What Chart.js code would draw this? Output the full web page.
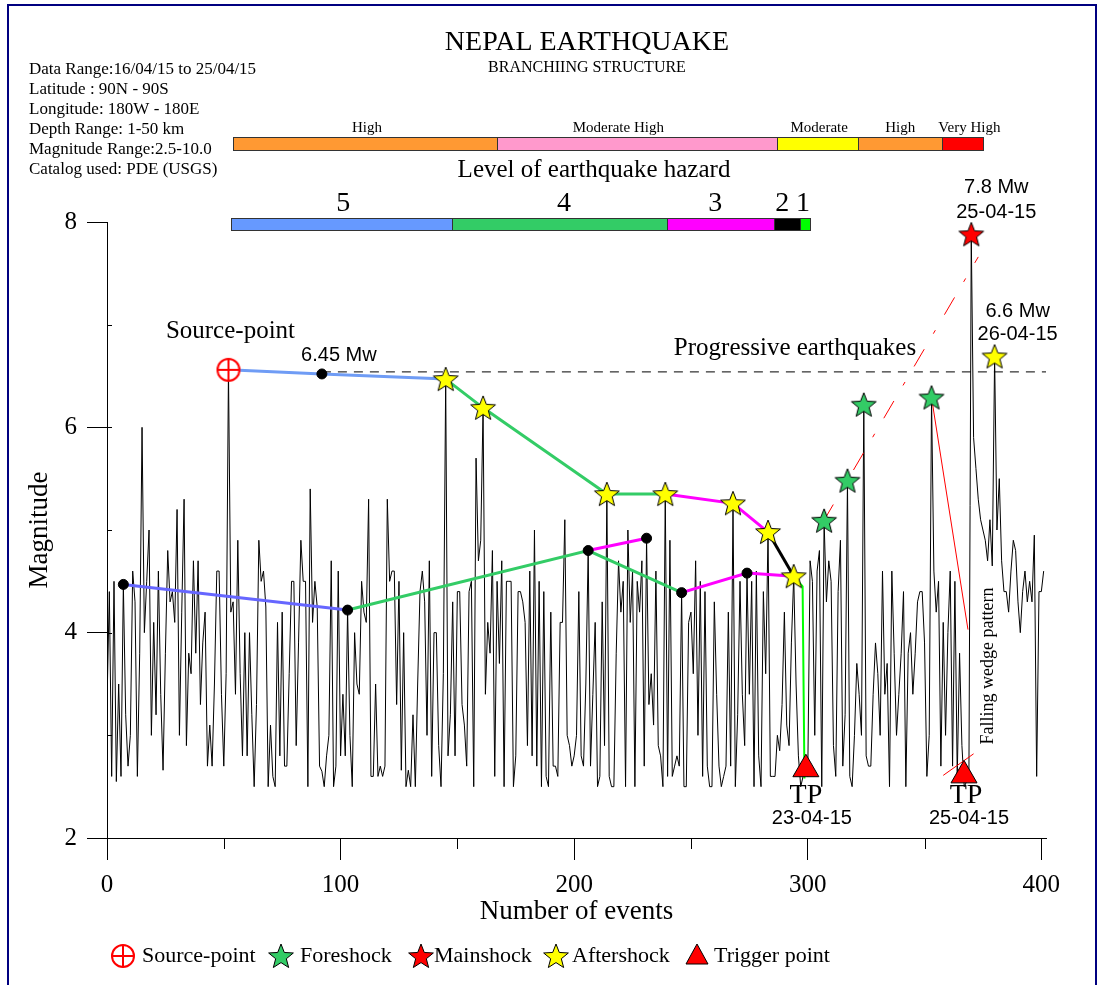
<!DOCTYPE html>
<html>
<head>
<meta charset="utf-8">
<title>Nepal earthquake - branching structure</title>
<script src="https://cdn.jsdelivr.net/npm/chart.js@4.4.0/dist/chart.umd.min.js"></script>
<style>
  body { margin: 0; background: #fff; }
  #wrap { position: relative; width: 1102px; height: 985px; }
</style>
</head>
<body>
<div id="wrap"><canvas id="canvas" width="1102" height="985"></canvas></div>
<script>
// magnitude of each event, event number = index
var magnitude = [
  3.3, 4.4, 2.6, 4.5, 2.55, 3.5, 2.6, 4.47, 3.2, 2.7,
  3.0, 4.6, 4.3, 2.6, 3.8, 6.0, 4.0, 4.5, 5.0, 3.0,
  4.1, 3.2, 4.6, 3.4, 2.66, 3.8, 4.8, 4.3, 4.4, 4.1,
  5.2, 3.0, 4.2, 5.3, 2.9, 3.8, 3.6, 4.7, 3.8, 4.7,
  3.3, 3.9, 4.2, 2.7, 3.1, 2.7, 3.5, 4.6, 4.6, 3.4,
  2.7, 3.6, 6.56, 4.2, 4.3, 3.4, 4.9, 3.6, 2.8, 4.0,
  2.8, 4.0, 3.2, 2.5, 3.3, 4.9, 4.5, 4.6, 4.25, 2.5,
  3.1, 2.6, 2.5, 4.1, 2.8, 4.2, 2.7, 2.7, 3.6, 4.5,
  4.5, 2.9, 3.9, 4.9, 4.5, 4.5, 2.5, 5.4, 4.1, 4.5,
  4.25, 2.7, 2.65, 2.5, 2.8, 3.0, 4.7, 2.5, 2.7, 4.6,
  2.8, 3.4, 2.8, 4.22, 3.0, 2.5, 4.0, 3.5, 3.4, 4.5,
  4.2, 4.1, 5.3, 2.6, 2.6, 3.5, 2.6, 2.7, 2.6, 2.7,
  5.3, 4.5, 4.6, 4.6, 3.3, 4.5, 2.66, 4.0, 2.5, 2.66,
  2.5, 3.2, 2.5, 3.5, 4.4, 4.6, 4.3, 3.0, 4.7, 2.6,
  4.0, 4.0, 2.9, 2.5, 3.6, 6.47, 2.8, 3.2, 4.3, 2.8,
  4.4, 4.4, 3.3, 3.1, 2.7, 4.4, 4.5, 2.5, 5.7, 4.7,
  4.9, 6.19, 3.4, 4.1, 3.8, 4.8, 2.6, 4.5, 3.7, 4.7,
  2.5, 4.5, 4.5, 4.5, 2.5, 2.8, 4.4, 4.4, 4.3, 4.1,
  2.9, 4.6, 2.8, 5.0, 2.7, 4.5, 2.5, 4.4, 2.6, 2.5,
  4.2, 2.7, 2.7, 2.6, 4.1, 4.1, 5.1, 3.0, 2.9, 2.7,
  2.8, 3.0, 4.4, 2.8, 2.7, 3.5, 4.8, 2.7, 3.4, 4.1,
  2.5, 2.6, 4.3, 2.9, 5.35, 2.6, 2.5, 2.5, 3.8, 4.7,
  4.2, 4.5, 2.5, 5.0, 4.1, 4.6, 2.5, 4.5, 4.2, 4.7,
  2.7, 4.92, 3.3, 3.6, 3.1, 4.6, 2.9, 2.8, 2.5, 5.35,
  2.6, 4.9, 2.6, 2.7, 2.8, 2.7, 4.39, 2.5, 2.5, 4.1,
  4.2, 3.6, 4.7, 3.0, 4.5, 2.6, 4.4, 2.7, 2.5, 2.5,
  4.3, 3.4, 2.7, 2.5, 2.6, 2.7, 4.2, 2.7, 5.26, 2.5,
  3.2, 4.5, 3.4, 2.9, 4.58, 3.4, 4.5, 2.5, 4.6, 2.8,
  2.5, 4.4, 3.6, 4.98, 2.6, 2.6, 2.6, 3.0, 2.85, 3.3,
  4.2, 3.1, 2.9, 3.9, 4.55, 3.5, 2.8, 2.5, 2.6, 2.7,
  2.6, 4.7, 4.5, 3.0, 4.6, 4.8, 2.5, 5.09, 4.3, 4.7,
  4.5, 2.9, 2.6, 4.4, 4.9, 2.7, 3.2, 5.48, 2.6, 2.5,
  3.0, 3.7, 3.4, 3.0, 6.22, 2.8, 2.7, 2.7, 3.4, 3.9,
  3.6, 3.0, 4.6, 3.4, 3.7, 2.5, 4.6, 3.8, 3.0, 3.4,
  3.8, 4.4, 2.5, 3.8, 4.0, 3.4, 3.8, 4.3, 4.4, 4.4,
  3.9, 2.6, 3.0, 6.29, 4.6, 4.2, 4.5, 2.7, 4.1, 3.0,
  4.0, 4.6, 2.7, 4.5, 2.6, 3.8, 2.9, 2.5, 2.55, 2.6,
  7.88, 5.9, 5.6, 5.3, 5.1, 5.0, 4.9, 4.7, 5.1, 4.65,
  6.69, 5.0, 5.5, 4.7, 4.4, 4.4, 4.2, 4.6, 4.9, 4.8,
  4.3, 4.0, 4.4, 4.6, 4.3, 4.5, 4.3, 4.95, 2.6, 4.4,
  4.4, 4.6
];

var xTickValues = [0, 100, 200, 300, 400];
var yTickValues = [2, 4, 6, 8];

var sourceEvents = [52];
var foreshockEvents = [307, 317, 324, 353];
var mainshockEvents = [370];
var aftershockEvents = [145, 161, 214, 239, 268, 283, 294, 380];
var nodeEvents = [7, 103, 206, 231, 246, 274];

// extra node on the level-5 branch (6.45 Mw)
var refNodeX = [92];
var refNodeY = [6.52];

var triggerX = [299.2, 366.9];
var triggerY = [2.67, 2.61];

// branches (event number, magnitude)
var lvl5TopX = [52, 92, 145],           lvl5TopY = [6.56, 6.52, 6.47];
var lvl4TopX = [145, 161, 214, 239],    lvl4TopY = [6.47, 6.19, 5.35, 5.35];
var lvl3TopX = [239, 268, 283],         lvl3TopY = [5.35, 5.26, 4.98];
var lvl2TopX = [283, 294],              lvl2TopY = [4.98, 4.55];
var lvl1X = [294, 297.8, 298.6],        lvl1Y = [4.55, 4.45, 2.58];
var lvl5LowX = [7, 103],                lvl5LowY = [4.47, 4.22];
var lvl4LowX = [103, 206, 246],         lvl4LowY = [4.22, 4.80, 4.39];
var lvl3LowAX = [206, 231],             lvl3LowAY = [4.80, 4.92];
var lvl3LowBX = [246, 274, 294],        lvl3LowBY = [4.39, 4.58, 4.55];

var progressiveX = [92, 402],           progressiveY = [6.54, 6.54];
var trendX = [306.6, 373.0],            trendY = [5.08, 7.66];
var wedgeTopX = [353, 368.6],           wedgeTopY = [6.29, 4.03];
var wedgeBaseX = [358.0, 371.0],        wedgeBaseY = [2.61, 2.82];

// hazard bars (bounds and label positions in event numbers)
var hazardBounds = [54.0, 167.0, 286.9, 321.6, 357.6, 375.1];
var hazardLabels = ['High', 'Moderate High', 'Moderate', 'High', 'Very High'];
var hazardLabelAt = [111.3, 218.9, 304.9, 339.6, 369.2];
var levelBounds = [53.1, 147.8, 239.8, 285.7, 296.8, 301.1];
var levelLabels = ['5', '4', '3', '2', '1'];
var levelLabelAt = [101.1, 195.7, 260.4, 289.1, 298.0];

var infoLines = [
  'Data Range:16/04/15 to 25/04/15',
  'Latitude : 90N - 90S',
  'Longitude: 180W - 180E',
  'Depth Range: 1-50 km',
  'Magnitude Range:2.5-10.0',
  'Catalog used: PDE (USGS)'
];

var SERIF = "'Liberation Serif', 'Times New Roman', serif";
var SANS = "'Liberation Sans', Arial, sans-serif";

function pick(list) {
  return list.map(function (i) { return { x: i, y: magnitude[i] }; });
}
function pts(xs, ys) {
  return xs.map(function (x, i) { return { x: x, y: ys[i] }; });
}

function starImage(r, fill) {
  var s = Math.ceil(r * 2 + 4);
  var c = document.createElement('canvas');
  c.width = s; c.height = s;
  var g = c.getContext('2d');
  g.beginPath();
  for (var i = 0; i < 10; i++) {
    var rr = i % 2 ? r * 0.43 : r;
    var a = -Math.PI / 2 + i * Math.PI / 5;
    g.lineTo(s / 2 + rr * Math.cos(a), s / 2 + 1 + rr * Math.sin(a));
  }
  g.closePath();
  g.fillStyle = fill;
  g.fill();
  g.strokeStyle = '#000';
  g.lineWidth = 1;
  g.stroke();
  return c;
}

function sourceImage(r) {
  var s = Math.ceil(r * 2 + 4);
  var c = document.createElement('canvas');
  c.width = s; c.height = s;
  var g = c.getContext('2d');
  g.strokeStyle = '#f00';
  g.lineWidth = 2;
  g.fillStyle = '#fff';
  g.beginPath();
  g.arc(s / 2, s / 2, r, 0, Math.PI * 2);
  g.fill();
  g.stroke();
  g.beginPath();
  g.moveTo(s / 2 - r, s / 2); g.lineTo(s / 2 + r, s / 2);
  g.moveTo(s / 2, s / 2 - r); g.lineTo(s / 2, s / 2 + r);
  g.stroke();
  return c;
}

var yellowStar = starImage(13, '#ffff00');
var greenStar = starImage(13, '#33cc66');
var redStar = starImage(13, '#ff0000');
var sourceMark = sourceImage(11);

function lineSet(data, color, width, dash) {
  return {
    data: data, showLine: true, borderColor: color, borderWidth: width,
    borderDash: dash || [], pointRadius: 0, fill: false, tension: 0
  };
}
function markSet(data, style, radius, fill) {
  return {
    data: data, showLine: false, pointStyle: style, pointRadius: radius,
    backgroundColor: fill || '#000', borderColor: '#000', borderWidth: 1, clip: false
  };
}

var overlay = {
  id: 'overlay',
  beforeDraw: function (chart) {
    var ctx = chart.ctx;
    ctx.save();
    ctx.fillStyle = '#fff';
    ctx.fillRect(0, 0, chart.width, chart.height);
    ctx.restore();
  },
  afterDraw: function (chart) {
    var ctx = chart.ctx;
    var xs = chart.scales.x, ys = chart.scales.y;
    var area = chart.chartArea;
    var X = function (v) { return xs.getPixelForValue(v); };
    var Y = function (v) { return ys.getPixelForValue(v); };
    ctx.save();

    // minor ticks
    ctx.strokeStyle = '#000';
    ctx.lineWidth = 1;
    ctx.beginPath();
    [50, 150, 250, 350].forEach(function (v) {
      var p = Math.round(X(v)) + 0.5;
      ctx.moveTo(p, area.bottom); ctx.lineTo(p, area.bottom + 11);
    });
    [3, 4, 5, 6, 7].forEach(function (v) {
      var p = Math.round(Y(v)) + 0.5;
      ctx.moveTo(area.left, p); ctx.lineTo(area.left + 5, p);
    });
    ctx.stroke();

    // titles
    ctx.fillStyle = '#000';
    ctx.textAlign = 'center';
    ctx.textBaseline = 'middle';
    ctx.font = '28px ' + SERIF;
    ctx.fillText('NEPAL EARTHQUAKE', 587, 43);
    ctx.font = '16px ' + SERIF;
    ctx.fillText('BRANCHIING STRUCTURE', 587, 68);
    ctx.font = '25px ' + SERIF;
    ctx.fillText('Level of earthquake hazard', 594, 170);

    // info block
    ctx.textAlign = 'left';
    ctx.font = '17px ' + SERIF;
    infoLines.forEach(function (t, i) { ctx.fillText(t, 29, 70 + i * 20); });

    // hazard bars
    function bar(bounds, labels, labelAt, colors, top, h, font, labelY) {
      for (var i = 0; i < labels.length; i++) {
        var x0 = X(bounds[i]), x1 = X(bounds[i + 1]);
        ctx.fillStyle = colors[i];
        ctx.fillRect(x0, top, x1 - x0, h);
        ctx.strokeStyle = '#333';
        ctx.lineWidth = 1;
        ctx.strokeRect(Math.round(x0) + 0.5, top + 0.5, Math.round(x1) - Math.round(x0), h);
        ctx.fillStyle = '#000';
        ctx.textAlign = 'center';
        ctx.font = font;
        ctx.fillText(labels[i], X(labelAt[i]), labelY);
      }
    }
    bar(hazardBounds, hazardLabels, hazardLabelAt,
      ['#ff9933', '#ff99cc', '#ffff00', '#ff9933', '#ff0000'],
      137, 13, '15px ' + SERIF, 128);
    bar(levelBounds, levelLabels, levelLabelAt,
      ['#6699ff', '#33cc66', '#ff00ff', '#000000', '#00ff00'],
      218, 12, '28px ' + SERIF, 204);

    // annotations
    ctx.fillStyle = '#000';
    ctx.textAlign = 'center';
    ctx.font = '25px ' + SERIF;
    ctx.fillText('Source-point', X(sourceEvents[0]) + 2, Y(magnitude[sourceEvents[0]]) - 38);
    ctx.fillText('Progressive earthquakes', 795, 348);
    ctx.font = '28px ' + SERIF;
    ctx.fillText('TP', X(triggerX[0]), 796);
    ctx.fillText('TP', X(triggerX[1]) + 2, 796);
    ctx.font = '20px ' + SANS;
    ctx.fillText('6.45 Mw', X(refNodeX[0]) + 17, Y(refNodeY[0]) - 18);
    ctx.fillText('23-04-15', X(triggerX[0]) + 6, 818);
    ctx.fillText('25-04-15', X(triggerX[1]) + 5, 818);
    var mx = X(mainshockEvents[0]);
    ctx.fillText('7.8 Mw', mx + 25, 187);
    ctx.fillText('25-04-15', mx + 25, 212);
    var ax = X(aftershockEvents[aftershockEvents.length - 1]);
    ctx.fillText('6.6 Mw', ax + 23, 311);
    ctx.fillText('26-04-15', ax + 23, 334);

    ctx.save();
    ctx.translate(988, 666);
    ctx.rotate(-Math.PI / 2);
    ctx.font = '18px ' + SERIF;
    ctx.fillText('Falling wedge pattern', 0, 0);
    ctx.restore();

    // legend
    var ly = 956;
    ctx.drawImage(sourceMark, 123 - sourceMark.width / 2, ly - sourceMark.height / 2);
    ctx.drawImage(greenStar, 281 - greenStar.width / 2, ly - greenStar.height / 2);
    ctx.drawImage(redStar, 421 - redStar.width / 2, ly - redStar.height / 2);
    ctx.drawImage(yellowStar, 556 - yellowStar.width / 2, ly - yellowStar.height / 2);
    ctx.beginPath();
    ctx.moveTo(697, ly - 12); ctx.lineTo(708, ly + 8); ctx.lineTo(686, ly + 8); ctx.closePath();
    ctx.fillStyle = '#f00'; ctx.fill();
    ctx.strokeStyle = '#000'; ctx.lineWidth = 1; ctx.stroke();
    ctx.fillStyle = '#000';
    ctx.textAlign = 'left';
    ctx.font = '22px ' + SERIF;
    ctx.fillText('Source-point', 142, ly);
    ctx.fillText('Foreshock', 300, ly);
    ctx.fillText('Mainshock', 434, ly);
    ctx.fillText('Aftershock', 572, ly);
    ctx.fillText('Trigger point', 714, ly);

    // frame
    ctx.strokeStyle = '#000080';
    ctx.lineWidth = 2;
    ctx.beginPath();
    ctx.moveTo(8, 990); ctx.lineTo(8, 5); ctx.lineTo(1096, 5); ctx.lineTo(1096, 990);
    ctx.stroke();
    ctx.restore();
  }
};

var datasets = [
  markSet(pick(sourceEvents), sourceMark, 12),
  markSet(pick(mainshockEvents), redStar, 13),
  markSet(pick(foreshockEvents), greenStar, 13),
  markSet(pick(aftershockEvents), yellowStar, 13),
  markSet(pts(triggerX, triggerY), 'triangle', 15, '#ff0000'),
  markSet(pick(nodeEvents).concat(pts(refNodeX, refNodeY)), 'circle', 5, '#000'),
  lineSet(pts(wedgeBaseX, wedgeBaseY), '#ff0000', 1),
  lineSet(pts(lvl1X, lvl1Y), '#00ff00', 2),
  lineSet(pts(lvl2TopX, lvl2TopY), '#000000', 3),
  lineSet(pts(lvl3TopX, lvl3TopY), '#ff00ff', 3),
  lineSet(pts(lvl4TopX, lvl4TopY), '#33cc66', 3),
  lineSet(pts(lvl5TopX, lvl5TopY), '#6f9cf5', 3),
  lineSet(pts(lvl3LowAX, lvl3LowAY), '#ff00ff', 3),
  lineSet(pts(lvl3LowBX, lvl3LowBY), '#ff00ff', 3),
  lineSet(pts(lvl4LowX, lvl4LowY), '#33cc66', 3),
  lineSet(pts(lvl5LowX, lvl5LowY), '#6666ff', 3),
  lineSet(pts(wedgeTopX, wedgeTopY), '#ff0000', 1),
  lineSet(pts(trendX, trendY), '#ff0000', 1, [20, 18, 4, 18]),
  lineSet(pts(progressiveX, progressiveY), '#000000', 1, [9, 7]),
  lineSet(magnitude.map(function (m, i) { return { x: i, y: m }; }), '#000000', 1)
];

function fixedTicks(values) {
  return function (scale) {
    scale.ticks = values.map(function (v) { return { value: v }; });
  };
}

var ctx = document.getElementById('canvas').getContext('2d');
window.quakeChart = new Chart(ctx, {
  type: 'scatter',
  data: { datasets: datasets },
  options: {
    responsive: false,
    animation: false,
    events: [],
    layout: { padding: { left: 0, right: 56, top: 222, bottom: 40 } },
    plugins: {
      legend: { display: false },
      title: { display: false },
      tooltip: { enabled: false }
    },
    scales: {
      x: {
        type: 'linear', min: 0, max: 402,
        afterBuildTicks: fixedTicks(xTickValues),
        afterFit: function (s) { s.height = 107; },
        border: { display: true, color: '#000', width: 1 },
        grid: { drawOnChartArea: false, drawTicks: true, tickLength: 22, color: '#000', tickColor: '#000' },
        ticks: { padding: 10, maxRotation: 0, autoSkip: false, color: '#000',
          font: { family: SERIF, size: 25 } },
        title: { display: true, text: 'Number of events', color: '#000',
          font: { family: SERIF, size: 27 }, padding: { top: 0, bottom: 17 } }
      },
      y: {
        type: 'linear', min: 2, max: 8,
        afterBuildTicks: fixedTicks(yTickValues),
        afterFit: function (s) { s.width = 107; },
        border: { display: true, color: '#000', width: 1 },
        grid: { drawOnChartArea: false, drawTicks: true, tickLength: 20, color: '#000', tickColor: '#000' },
        ticks: { padding: 10, autoSkip: false, color: '#000',
          font: { family: SERIF, size: 25 } },
        title: { display: true, text: 'Magnitude', color: '#000',
          font: { family: SERIF, size: 27 }, padding: { top: 24, bottom: 0 } }
      }
    }
  },
  plugins: [overlay]
});
</script>
</body>
</html>
